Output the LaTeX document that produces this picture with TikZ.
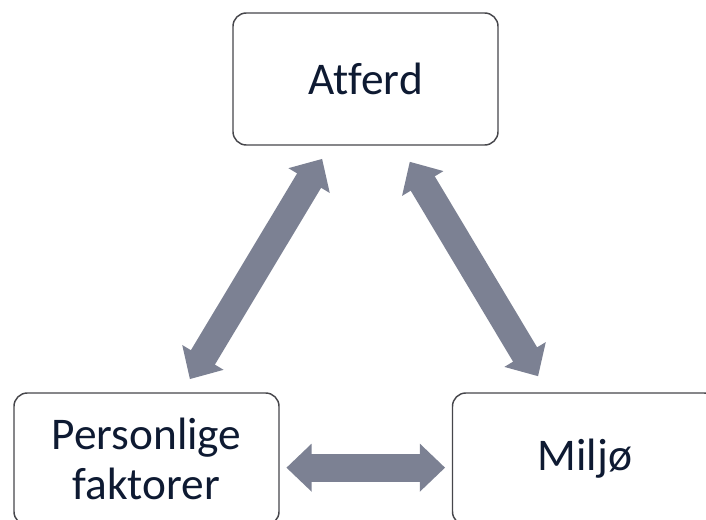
\documentclass[tikz,border=0pt]{standalone}
\usepackage{fontspec}
\setmainfont[Ligatures=NoCommon]{Carlito}
\usepackage{tikz}
\usetikzlibrary{arrows.meta}
\definecolor{boxline}{RGB}{70,70,75}
\definecolor{txt}{RGB}{14,26,50}
\definecolor{arrowgray}{RGB}{124,129,147}
\tikzset{
  factor/.style={draw=boxline, line width=1.1pt, rounded corners=10pt, fill=white,
    minimum width=198.75pt, minimum height=99pt, align=center, text=txt,
    font=\fontsize{34}{38}\selectfont},
  dblarrow/.style={draw=arrowgray, line width=21pt,
    {Triangle[length=19pt,width=35pt]}-{Triangle[length=19pt,width=35pt]}}
}
\begin{document}
\begin{tikzpicture}[x=0.75pt,y=-0.75pt]
\useasboundingbox (0,0) rectangle (706,520);
\clip (0,0) rectangle (706,520);
\node[factor] (atferd) at (365.5,79) {Atferd};
\node[factor] (person) at (146.5,459) {Personlige\\faktorer};
\node[factor] (miljo) at (585,459) {Miljø};
\draw[dblarrow, shorten <=11.5pt, shorten >=11.5pt] ([xshift=26.6pt]person.north) -- ([xshift=-26.6pt]atferd.south);
\draw[dblarrow, shorten <=14pt, shorten >=14pt] ([xshift=26pt]atferd.south) -- ([xshift=-28pt]miljo.north);
\draw[dblarrow, shorten <=5pt, shorten >=5pt] ([yshift=-6.5pt]person.east) -- ([yshift=-6.5pt]miljo.west);
\end{tikzpicture}
\end{document}
